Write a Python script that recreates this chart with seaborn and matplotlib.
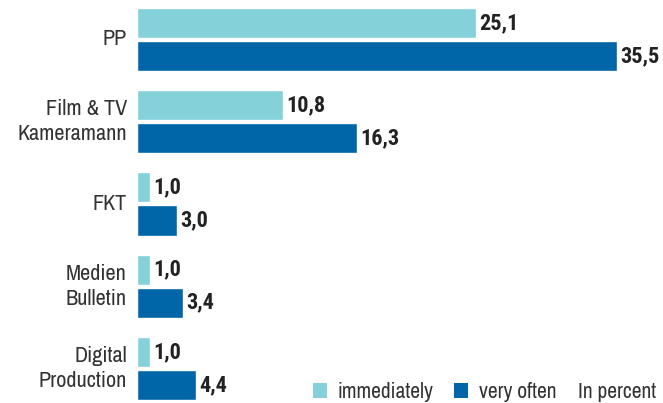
import pandas as pd
import seaborn as sns
import matplotlib.pyplot as plt
from matplotlib.patches import Patch

# data
categories = ["PP", "Film & TV\nKameramann", "FKT", "Medien\nBulletin", "Digital\nProduction"]
immediately = [25.1, 10.8, 1.0, 1.0, 1.0]
very_often = [35.5, 16.3, 3.0, 3.4, 4.4]
series = ["immediately", "very often"]
colors = ["#85d1da", "#0066a8"]

rows = []
for cat, a, b in zip(categories, immediately, very_often):
    rows.append({"Category": cat, "Series": series[0], "Value": a})
    rows.append({"Category": cat, "Series": series[1], "Value": b})
df = pd.DataFrame(rows)

sns.set_style("white")
plt.rcParams['font.family'] = ['Archivo Narrow', 'Roboto Condensed', 'DejaVu Sans']

fig = plt.figure(figsize=(6.63, 4.03), dpi=100)
ax = fig.add_axes([0.206, 0.0, 0.794, 1.0])

sns.barplot(data=df, y="Category", x="Value", hue="Series", order=categories,
            hue_order=series, palette=colors, orient="h", width=0.805, gap=0.09,
            saturation=1, legend=False, ax=ax)

ax.set_xlim(0, 38.93)
ax.set_ylim(4.42, -0.48)
ax.set_xlabel("")
ax.set_ylabel("")
ax.set_xticks([])
for s in ax.spines.values():
    s.set_visible(False)
ax.tick_params(axis="y", length=0)
ax.set_yticklabels([])

# category names, right aligned line by line
for i, cat in enumerate(categories):
    ax.annotate(cat, xy=(0, i), xycoords=ax.get_yaxis_transform(),
                xytext=(-7, 0), textcoords="offset points",
                ha="right", va="center", multialignment="right",
                fontsize=16, color="#333333", linespacing=1.33)

for cont in ax.containers:
    ax.bar_label(cont, labels=[f"{v:.1f}".replace(".", ",") for v in cont.datavalues],
                 padding=2.5, fontsize=16, fontweight="bold", color="#222222",
                 family=["Roboto Condensed", "DejaVu Sans"])

handles = [Patch(facecolor=c, edgecolor="none") for c in colors]
fig.legend(handles, series, ncol=2, loc="center left", bbox_to_anchor=(313 / 663, 0.027),
           frameon=False, fontsize=15.5, handlelength=0.65, handleheight=0.65,
           handletextpad=0.5, columnspacing=0.95, borderpad=0, borderaxespad=0,
           labelcolor="#333333")
fig.text(578 / 663, 0.027, "In percent", fontsize=15.5, color="#333333", va="center")

plt.savefig("out.png", dpi=100)
